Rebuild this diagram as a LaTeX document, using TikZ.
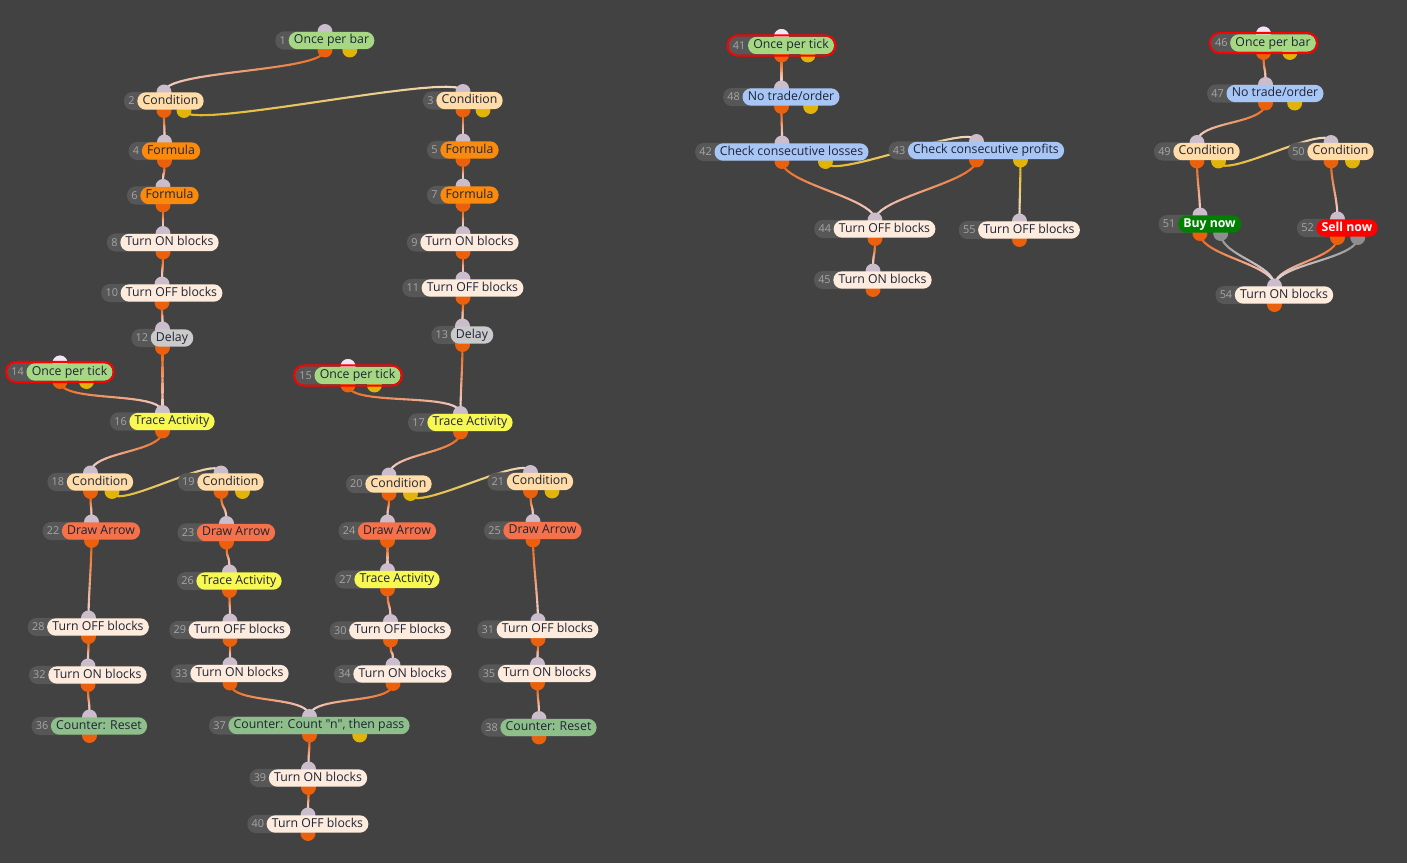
\documentclass[tikz,border=0pt]{standalone}
\usepackage{fontspec}
\setmainfont{Open Sans}
\newfontfamily\blockfont{Open Sans}
\usetikzlibrary{calc}

\definecolor{canvas}{HTML}{424242}
\definecolor{numfill}{HTML}{575757}
\definecolor{numtext}{HTML}{A6A6A6}
\definecolor{ink}{HTML}{1E2436}
\definecolor{orng}{HTML}{EA600C}
\definecolor{yel}{HTML}{E2B40A}
\definecolor{gry}{HTML}{8E8E8E}
\definecolor{wireend}{HTML}{F3DEE2}
\definecolor{inport}{HTML}{CBBDCC}
\definecolor{freeport}{HTML}{F4E4F4}
\definecolor{tickgreen}{HTML}{A6D884}
\definecolor{condpeach}{HTML}{FFDCA8}
\definecolor{formorange}{HTML}{FA8A0E}
\definecolor{blockpale}{HTML}{FDEBDD}
\definecolor{delaygrey}{HTML}{CACACA}
\definecolor{traceyellow}{HTML}{F8F852}
\definecolor{arrowcoral}{HTML}{F5714A}
\definecolor{countgreen}{HTML}{8EBF8B}
\definecolor{checkblue}{HTML}{A8C6F5}
\definecolor{buygreen}{HTML}{008000}
\definecolor{sellred}{HTML}{FF0000}

\pgfdeclarelayer{back}
\pgfdeclarelayer{wires}
\pgfdeclarelayer{ports}
\pgfsetlayers{back,wires,ports,main}

% \block[fill]{name}{centre}{number}{text}
\newcommand\block[5][blockpale]{%
  \ifnum#4<10\relax\def\numw{13}\else\def\numw{19}\fi
  \node[pill,fill=#1] (#2) at ($(#3)+(\numw/2,0)$) {#5};
  \begin{pgfonlayer}{ports}
    \fill[numfill,rounded corners=4.9pt] ($(#2.south west)+(-\numw,0)$) rectangle (#2.north);
    \node[numtxt] at ($(#2.west)+(-\numw/2+1,0)$) {#4};
    \node[port,fill=inport] (#2i) at ($(#3)+(0,-9)$) {};
    \node[port,fill=orng] (#2o) at ($(#3)+(0,9.5)$) {};
  \end{pgfonlayer}}
% second output port: name, colour
\newcommand\xport[2]{%
  \begin{pgfonlayer}{ports}
    \node[port,fill=#2] (#1y) at ($(#1o)!.5!(#1.east |- #1o)$) {};
  \end{pgfonlayer}}
% red frame of a start block
\newcommand\ring[1]{%
  \draw[red,line width=1.1pt,rounded corners=5.6pt] ($(#1.south west)+(-20,1)$) rectangle ($(#1.north east)+(1,-1)$);
  \begin{pgfonlayer}{ports}\node[port,fill=freeport] at (#1i) {};\end{pgfonlayer}}
% wire from port to port, fading out
\newcommand\wire[3]{%
  \path (#1.center) .. controls +(0,22) and +(0,-22) .. (#2.center)
    foreach \k in {0,...,20} {coordinate[pos=\k/20] (w\k)};
  \foreach \k [evaluate=\k as \m using int(\k+1),
               evaluate=\k as \c using int(100-5*\k)] in {0,...,19}
    \draw[wire,#3!\c!wireend] (w\k) -- (w\m);}

\begin{document}
\begin{tikzpicture}
  [%%%%%%%%%%%%%%%%%%%%%%%%%%%%%%%%%%%%%%%%%%%%%%%%%%%%%%%%%%
    x=0.02cm,y=-0.02cm,
    pill/.style={rectangle,rounded corners=4.9pt,inner xsep=3pt,inner ysep=0pt,
                 minimum height=9.9pt,text=ink,font=\blockfont\fontsize{7}{8}\selectfont,
                 text height=5.1pt,text depth=1.5pt},
    numtxt/.style={inner sep=0pt,text=numtext,font=\blockfont\fontsize{6.2}{7}\selectfont},
    port/.style={circle,inner sep=0pt,minimum size=8.5pt},
    wire/.style={line width=1.2pt,line cap=round}
  ]%%%%%%%%%%%%%%%%%%%%%%%%%%%%%%%%%%%%%%%%%%%%%%%%%%%%%%%%%%
  \useasboundingbox (0,0) rectangle (1407,863);
  \begin{pgfonlayer}{back}
    \fill[canvas] (0,0) rectangle (1407,863);
  \end{pgfonlayer}

  % left chain
  \block[tickgreen]{b1}{325,40.5}{1}{Once per bar}
  \block[condpeach]{b2}{164,101}{2}{Condition}
  \block[condpeach]{b3}{463,100.5}{3}{Condition}
  \block[formorange]{b4}{164.5,151}{4}{Formula}
  \block[formorange]{b5}{463,150}{5}{Formula}
  \block[formorange]{b6}{163,195.5}{6}{Formula}
  \block[formorange]{b7}{463,195}{7}{Formula}
  \block{b8}{163,242.5}{8}{Turn ON blocks}
  \block{b9}{463,242.5}{9}{Turn ON blocks}
  \block{b10}{162,293}{10}{Turn OFF blocks}
  \block{b11}{463,288}{11}{Turn OFF blocks}
  \block[delaygrey]{b12}{162.5,338}{12}{Delay}
  \block[delaygrey]{b13}{462.5,335}{13}{Delay}
  \block[tickgreen]{b14}{60,372}{14}{Once per tick}
  \block[tickgreen]{b15}{348,375.5}{15}{Once per tick}
  \block[traceyellow]{b16}{162.5,421.5}{16}{Trace Activity}
  \block[traceyellow]{b17}{460.5,422.5}{17}{Trace Activity}
  \block[condpeach]{b18}{90.5,482}{18}{Condition}
  \block[condpeach]{b19}{221,482}{19}{Condition}
  \block[condpeach]{b20}{389,484}{20}{Condition}
  \block[condpeach]{b21}{530.5,481.5}{21}{Condition}
  \block[arrowcoral]{b22}{91.5,531}{22}{Draw Arrow}
  \block[arrowcoral]{b23}{226.5,532.5}{23}{Draw Arrow}
  \block[arrowcoral]{b24}{387.5,531}{24}{Draw Arrow}
  \block[arrowcoral]{b25}{533,530.5}{25}{Draw Arrow}
  \block[traceyellow]{b26}{229.5,581}{26}{Trace Activity}
  \block[traceyellow]{b27}{387.5,579.5}{27}{Trace Activity}
  \block{b28}{88.5,627}{28}{Turn OFF blocks}
  \block{b29}{230,630}{29}{Turn OFF blocks}
  \block{b30}{390.5,630.5}{30}{Turn OFF blocks}
  \block{b31}{538,629.5}{31}{Turn OFF blocks}
  \block{b32}{88,675}{32}{Turn ON blocks}
  \block{b33}{230,673.5}{33}{Turn ON blocks}
  \block{b34}{393,674}{34}{Turn ON blocks}
  \block{b35}{537.5,673.5}{35}{Turn ON blocks}
  \block[countgreen]{b36}{89.5,726}{36}{Counter: Reset}
  \block[countgreen]{b37}{309.5,725.5}{37}{Counter: Count "n", then pass}
  \block[countgreen]{b38}{539,727.5}{38}{Counter: Reset}
  \block{b39}{308.5,778}{39}{Turn ON blocks}
  \block{b40}{308,824}{40}{Turn OFF blocks}

  % middle chain
  \block[tickgreen]{b41}{781.5,45.5}{41}{Once per tick}
  \block[checkblue]{b48}{781.5,97}{48}{No trade/order}
  \block[checkblue]{b42}{782,152}{42}{Check consecutive losses}
  \block[checkblue]{b43}{976.5,150.5}{43}{Check consecutive profits}
  \block{b44}{875,229}{44}{Turn OFF blocks}
  \block{b55}{1019.5,230}{55}{Turn OFF blocks}
  \block{b45}{873,280}{45}{Turn ON blocks}

  % right chain
  \block[tickgreen]{b46}{1263.5,43}{46}{Once per bar}
  \block[checkblue]{b47}{1265.5,93.5}{47}{No trade/order}
  \block[condpeach]{b49}{1197,151.5}{49}{Condition}
  \block[condpeach]{b50}{1331,151.5}{50}{Condition}
  \block[buygreen,text=white]{b51}{1200,224}{51}{\bfseries Buy now}
  \block[sellred,text=white]{b52}{1337.5,228}{52}{\bfseries Sell now}
  \block{b54}{1274.5,295}{54}{Turn ON blocks}

  \foreach \b in {b1,b2,b3,b14,b15,b18,b19,b20,b21,b37,b41,b48,b42,b43,b46,b47,b49,b50}
    \xport{\b}{yel};
  \xport{b51}{gry}
  \xport{b52}{gry}
  \foreach \b in {b14,b15,b41,b46}
    \ring{\b};

  \begin{pgfonlayer}{wires}
    \wire{b1o}{b2i}{orng}
    \wire{b2o}{b4i}{orng}
    \wire{b2y}{b3i}{yel}
    \wire{b3o}{b5i}{orng}
    \wire{b4o}{b6i}{orng}
    \wire{b5o}{b7i}{orng}
    \wire{b6o}{b8i}{orng}
    \wire{b7o}{b9i}{orng}
    \wire{b8o}{b10i}{orng}
    \wire{b9o}{b11i}{orng}
    \wire{b10o}{b12i}{orng}
    \wire{b11o}{b13i}{orng}
    \wire{b12o}{b16i}{orng}
    \wire{b13o}{b17i}{orng}
    \wire{b14o}{b16i}{orng}
    \wire{b15o}{b17i}{orng}
    \wire{b16o}{b18i}{orng}
    \wire{b17o}{b20i}{orng}
    \wire{b18y}{b19i}{yel}
    \wire{b20y}{b21i}{yel}
    \wire{b18o}{b22i}{orng}
    \wire{b19o}{b23i}{orng}
    \wire{b20o}{b24i}{orng}
    \wire{b21o}{b25i}{orng}
    \wire{b22o}{b28i}{orng}
    \wire{b23o}{b26i}{orng}
    \wire{b24o}{b27i}{orng}
    \wire{b25o}{b31i}{orng}
    \wire{b26o}{b29i}{orng}
    \wire{b27o}{b30i}{orng}
    \wire{b28o}{b32i}{orng}
    \wire{b29o}{b33i}{orng}
    \wire{b30o}{b34i}{orng}
    \wire{b31o}{b35i}{orng}
    \wire{b32o}{b36i}{orng}
    \wire{b33o}{b37i}{orng}
    \wire{b34o}{b37i}{orng}
    \wire{b35o}{b38i}{orng}
    \wire{b37o}{b39i}{orng}
    \wire{b39o}{b40i}{orng}
    \wire{b41o}{b48i}{orng}
    \wire{b48o}{b42i}{orng}
    \wire{b42y}{b43i}{yel}
    \wire{b42o}{b44i}{orng}
    \wire{b43o}{b44i}{orng}
    \wire{b43y}{b55i}{yel}
    \wire{b44o}{b45i}{orng}
    \wire{b46o}{b47i}{orng}
    \wire{b47o}{b49i}{orng}
    \wire{b49y}{b50i}{yel}
    \wire{b49o}{b51i}{orng}
    \wire{b50o}{b52i}{orng}
    \wire{b51o}{b54i}{orng}
    \wire{b51y}{b54i}{gry}
    \wire{b52o}{b54i}{orng}
    \wire{b52y}{b54i}{gry}
  \end{pgfonlayer}
\end{tikzpicture}
\end{document}
